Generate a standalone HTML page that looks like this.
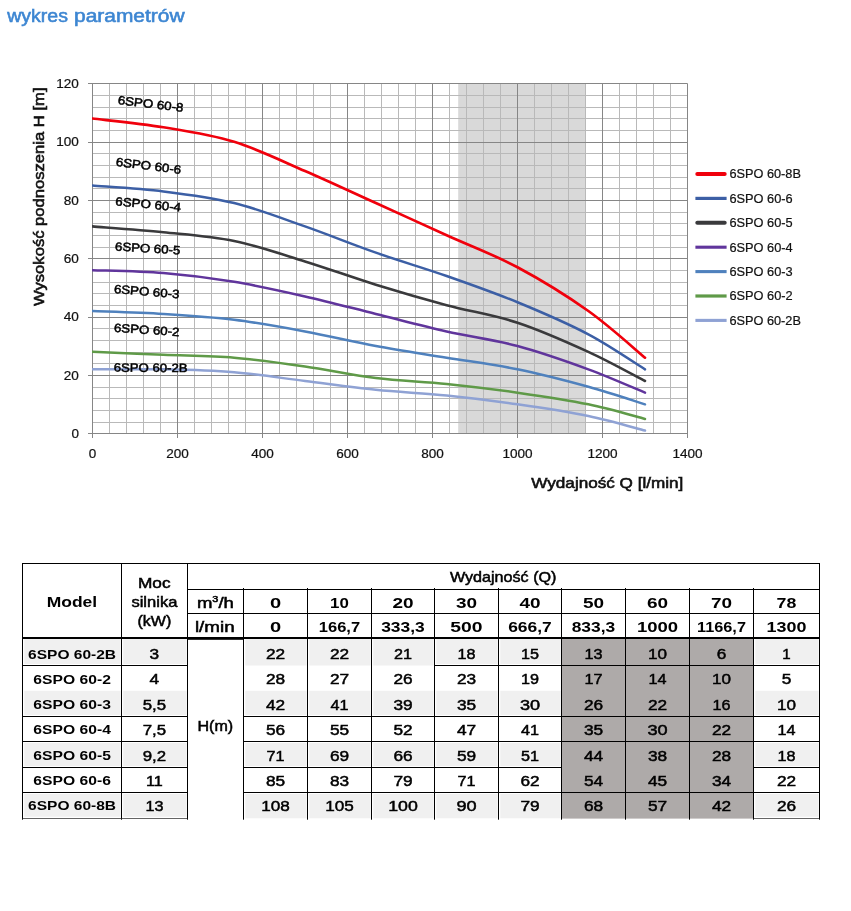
<!DOCTYPE html>
<html lang="pl"><head><meta charset="utf-8"><title>wykres parametrów</title>
<style>html,body{margin:0;padding:0;background:#fff}svg{display:block}text{font-family:"Liberation Sans", sans-serif}</style>
</head><body>
<svg width="851" height="911" viewBox="0 0 851 911">
<rect x="0" y="0" width="851" height="911" fill="#fff"/>
<text x="7.3" y="22.3" font-size="17.5" text-anchor="start" font-weight="normal" fill="#3d86d2" textLength="60.6" lengthAdjust="spacingAndGlyphs" stroke="#3d86d2" stroke-width="0.55">wykres</text>
<text x="74.0" y="22.3" font-size="17.5" text-anchor="start" font-weight="normal" fill="#3d86d2" textLength="110.5" lengthAdjust="spacingAndGlyphs" stroke="#3d86d2" stroke-width="0.55">parametrów</text>
<rect x="458.2" y="83.5" width="127.8" height="350.0" fill="#d9d9d9"/>
<path d="M109.5 83.50V433.50M126.5 83.50V433.50M143.5 83.50V433.50M160.5 83.50V433.50M194.5 83.50V433.50M211.5 83.50V433.50M228.5 83.50V433.50M245.5 83.50V433.50M279.5 83.50V433.50M296.5 83.50V433.50M313.5 83.50V433.50M330.5 83.50V433.50M364.5 83.50V433.50M381.5 83.50V433.50M398.5 83.50V433.50M415.5 83.50V433.50M449.5 83.50V433.50M466.5 83.50V433.50M483.5 83.50V433.50M500.5 83.50V433.50M534.5 83.50V433.50M551.5 83.50V433.50M568.5 83.50V433.50M585.5 83.50V433.50M619.5 83.50V433.50M636.5 83.50V433.50M653.5 83.50V433.50M670.5 83.50V433.50M92.50 422.5H687.50M92.50 410.5H687.50M92.50 398.5H687.50M92.50 387.5H687.50M92.50 363.5H687.50M92.50 352.5H687.50M92.50 340.5H687.50M92.50 328.5H687.50M92.50 305.5H687.50M92.50 293.5H687.50M92.50 282.5H687.50M92.50 270.5H687.50M92.50 247.5H687.50M92.50 235.5H687.50M92.50 223.5H687.50M92.50 212.5H687.50M92.50 188.5H687.50M92.50 177.5H687.50M92.50 165.5H687.50M92.50 153.5H687.50M92.50 130.5H687.50M92.50 118.5H687.50M92.50 107.5H687.50M92.50 95.5H687.50" stroke="#b9b9b9" stroke-width="1" fill="none"/>
<path d="M92.5 83.50V438.00M177.5 83.50V438.00M262.5 83.50V438.00M347.5 83.50V438.00M432.5 83.50V438.00M517.5 83.50V438.00M602.5 83.50V438.00M687.5 83.50V438.00M88.00 433.5H687.50M88.00 375.5H687.50M88.00 317.5H687.50M88.00 258.5H687.50M88.00 200.5H687.50M88.00 142.5H687.50M88.00 83.5H687.50" stroke="#868686" stroke-width="1" fill="none"/>
<clipPath id="pc"><rect x="92.0" y="83.5" width="596.0" height="350.0"/></clipPath>
<path d="M92.50 369.33C104.31 369.33 139.74 368.85 163.35 369.33C186.96 369.82 210.54 370.31 234.15 372.25C257.76 374.19 281.38 378.08 305.00 381.00C328.62 383.92 352.24 387.32 375.85 389.75C399.46 392.18 423.04 393.15 446.65 395.58C470.26 398.01 493.88 400.93 517.50 404.33C541.12 407.74 567.10 411.62 588.35 416.00C609.60 420.38 635.56 428.15 645.00 430.58" stroke="#8fa2d4" stroke-width="2.5" fill="none" stroke-linecap="round" stroke-linejoin="round" clip-path="url(#pc)"/>
<path d="M92.50 351.83C104.31 352.32 139.74 353.78 163.35 354.75C186.96 355.72 210.54 355.72 234.15 357.67C257.76 359.61 281.38 363.01 305.00 366.42C328.62 369.82 352.24 375.17 375.85 378.08C399.46 381.00 423.04 381.49 446.65 383.92C470.26 386.35 493.88 389.26 517.50 392.67C541.12 396.07 567.10 399.96 588.35 404.33C609.60 408.71 635.56 416.49 645.00 418.92" stroke="#5f9a48" stroke-width="2.5" fill="none" stroke-linecap="round" stroke-linejoin="round" clip-path="url(#pc)"/>
<path d="M92.50 311.00C104.31 311.49 139.74 312.46 163.35 313.92C186.96 315.38 210.54 316.83 234.15 319.75C257.76 322.67 281.38 327.04 305.00 331.42C328.62 335.79 352.24 341.62 375.85 346.00C399.46 350.38 423.04 353.78 446.65 357.67C470.26 361.56 493.88 364.47 517.50 369.33C541.12 374.19 567.10 381.00 588.35 386.83C609.60 392.67 635.56 401.42 645.00 404.33" stroke="#4f81bd" stroke-width="2.5" fill="none" stroke-linecap="round" stroke-linejoin="round" clip-path="url(#pc)"/>
<path d="M92.50 270.17C104.31 270.65 139.74 271.14 163.35 273.08C186.96 275.03 210.54 277.94 234.15 281.83C257.76 285.72 281.38 291.07 305.00 296.42C328.62 301.76 352.24 308.08 375.85 313.92C399.46 319.75 423.04 326.07 446.65 331.42C470.26 336.76 493.88 339.68 517.50 346.00C541.12 352.32 567.10 361.56 588.35 369.33C609.60 377.11 635.56 388.78 645.00 392.67" stroke="#60359c" stroke-width="2.5" fill="none" stroke-linecap="round" stroke-linejoin="round" clip-path="url(#pc)"/>
<path d="M92.50 226.42C104.31 227.39 139.74 229.82 163.35 232.25C186.96 234.68 210.54 236.14 234.15 241.00C257.76 245.86 281.38 254.13 305.00 261.42C328.62 268.71 352.24 277.46 375.85 284.75C399.46 292.04 423.04 298.85 446.65 305.17C470.26 311.49 493.88 314.89 517.50 322.67C541.12 330.44 567.10 342.11 588.35 351.83C609.60 361.56 635.56 376.14 645.00 381.00" stroke="#3a3a3c" stroke-width="2.6" fill="none" stroke-linecap="round" stroke-linejoin="round" clip-path="url(#pc)"/>
<path d="M92.50 185.58C104.31 186.56 139.74 188.50 163.35 191.42C186.96 194.33 210.54 197.25 234.15 203.08C257.76 208.92 281.38 218.15 305.00 226.42C328.62 234.68 352.24 244.40 375.85 252.67C399.46 260.93 423.04 267.74 446.65 276.00C470.26 284.26 493.88 292.53 517.50 302.25C541.12 311.97 567.10 323.15 588.35 334.33C609.60 345.51 635.56 363.50 645.00 369.33" stroke="#3c5fa5" stroke-width="2.5" fill="none" stroke-linecap="round" stroke-linejoin="round" clip-path="url(#pc)"/>
<path d="M92.50 118.50C104.31 119.96 139.74 123.36 163.35 127.25C186.96 131.14 210.54 134.54 234.15 141.83C257.76 149.13 281.38 160.79 305.00 171.00C328.62 181.21 352.24 192.39 375.85 203.08C399.46 213.78 423.04 224.47 446.65 235.17C470.26 245.86 493.88 254.61 517.50 267.25C541.12 279.89 567.10 295.93 588.35 311.00C609.60 326.07 635.56 349.89 645.00 357.67" stroke="#f0000c" stroke-width="2.7" fill="none" stroke-linecap="round" stroke-linejoin="round" clip-path="url(#pc)"/>
<text x="78.9" y="437.8" font-size="12.2" text-anchor="end" font-weight="normal" fill="#111" textLength="7.5" lengthAdjust="spacingAndGlyphs" stroke="#111" stroke-width="0.2">0</text>
<text x="78.9" y="379.5" font-size="12.2" text-anchor="end" font-weight="normal" fill="#111" textLength="15.1" lengthAdjust="spacingAndGlyphs" stroke="#111" stroke-width="0.2">20</text>
<text x="78.9" y="321.1" font-size="12.2" text-anchor="end" font-weight="normal" fill="#111" textLength="15.1" lengthAdjust="spacingAndGlyphs" stroke="#111" stroke-width="0.2">40</text>
<text x="78.9" y="262.8" font-size="12.2" text-anchor="end" font-weight="normal" fill="#111" textLength="15.1" lengthAdjust="spacingAndGlyphs" stroke="#111" stroke-width="0.2">60</text>
<text x="78.9" y="204.5" font-size="12.2" text-anchor="end" font-weight="normal" fill="#111" textLength="15.1" lengthAdjust="spacingAndGlyphs" stroke="#111" stroke-width="0.2">80</text>
<text x="78.9" y="146.1" font-size="12.2" text-anchor="end" font-weight="normal" fill="#111" textLength="22.6" lengthAdjust="spacingAndGlyphs" stroke="#111" stroke-width="0.2">100</text>
<text x="78.9" y="87.8" font-size="12.2" text-anchor="end" font-weight="normal" fill="#111" textLength="22.6" lengthAdjust="spacingAndGlyphs" stroke="#111" stroke-width="0.2">120</text>
<text x="88.7" y="457.9" font-size="12.2" text-anchor="start" font-weight="normal" fill="#111" textLength="7.5" lengthAdjust="spacingAndGlyphs" stroke="#111" stroke-width="0.2">0</text>
<text x="166.2" y="457.9" font-size="12.2" text-anchor="start" font-weight="normal" fill="#111" textLength="22.6" lengthAdjust="spacingAndGlyphs" stroke="#111" stroke-width="0.2">200</text>
<text x="251.2" y="457.9" font-size="12.2" text-anchor="start" font-weight="normal" fill="#111" textLength="22.6" lengthAdjust="spacingAndGlyphs" stroke="#111" stroke-width="0.2">400</text>
<text x="336.2" y="457.9" font-size="12.2" text-anchor="start" font-weight="normal" fill="#111" textLength="22.6" lengthAdjust="spacingAndGlyphs" stroke="#111" stroke-width="0.2">600</text>
<text x="421.2" y="457.9" font-size="12.2" text-anchor="start" font-weight="normal" fill="#111" textLength="22.6" lengthAdjust="spacingAndGlyphs" stroke="#111" stroke-width="0.2">800</text>
<text x="502.4" y="457.9" font-size="12.2" text-anchor="start" font-weight="normal" fill="#111" textLength="30.2" lengthAdjust="spacingAndGlyphs" stroke="#111" stroke-width="0.2">1000</text>
<text x="587.4" y="457.9" font-size="12.2" text-anchor="start" font-weight="normal" fill="#111" textLength="30.2" lengthAdjust="spacingAndGlyphs" stroke="#111" stroke-width="0.2">1200</text>
<text x="672.4" y="457.9" font-size="12.2" text-anchor="start" font-weight="normal" fill="#111" textLength="30.2" lengthAdjust="spacingAndGlyphs" stroke="#111" stroke-width="0.2">1400</text>
<text x="531.3" y="488.2" font-size="15.3" text-anchor="start" font-weight="normal" fill="#111" textLength="152.0" lengthAdjust="spacingAndGlyphs" stroke="#111" stroke-width="0.6">Wydajność Q [l/min]</text>
<g transform="translate(44.3 306) rotate(-90)">
<text x="0.0" y="0.0" font-size="15.3" text-anchor="start" font-weight="normal" fill="#111" textLength="218.5" lengthAdjust="spacingAndGlyphs" stroke="#111" stroke-width="0.6">Wysokość podnoszenia H [m]</text>
</g>
<g transform="translate(117.4 104.0) rotate(6.8)">
<text x="0.0" y="0.0" font-size="12" text-anchor="start" font-weight="normal" fill="#000" textLength="66.0" lengthAdjust="spacingAndGlyphs" stroke="#000" stroke-width="0.5">6SPO 60-8</text>
</g>
<g transform="translate(115.4 165.7) rotate(7.2)">
<text x="0.0" y="0.0" font-size="12" text-anchor="start" font-weight="normal" fill="#000" textLength="65.8" lengthAdjust="spacingAndGlyphs" stroke="#000" stroke-width="0.5">6SPO 60-6</text>
</g>
<g transform="translate(115.1 205.2) rotate(5.5)">
<text x="0.0" y="0.0" font-size="12" text-anchor="start" font-weight="normal" fill="#000" textLength="65.9" lengthAdjust="spacingAndGlyphs" stroke="#000" stroke-width="0.5">6SPO 60-4</text>
</g>
<g transform="translate(114.8 250.4) rotate(3.6)">
<text x="0.0" y="0.0" font-size="12" text-anchor="start" font-weight="normal" fill="#000" textLength="65.3" lengthAdjust="spacingAndGlyphs" stroke="#000" stroke-width="0.5">6SPO 60-5</text>
</g>
<g transform="translate(113.7 292.9) rotate(4.8)">
<text x="0.0" y="0.0" font-size="12" text-anchor="start" font-weight="normal" fill="#000" textLength="65.6" lengthAdjust="spacingAndGlyphs" stroke="#000" stroke-width="0.5">6SPO 60-3</text>
</g>
<g transform="translate(113.7 331.7) rotate(3.9)">
<text x="0.0" y="0.0" font-size="12" text-anchor="start" font-weight="normal" fill="#000" textLength="65.6" lengthAdjust="spacingAndGlyphs" stroke="#000" stroke-width="0.5">6SPO 60-2</text>
</g>
<g transform="translate(113.7 371.6) rotate(0.4)">
<text x="0.0" y="0.0" font-size="12" text-anchor="start" font-weight="normal" fill="#000" textLength="73.8" lengthAdjust="spacingAndGlyphs" stroke="#000" stroke-width="0.5">6SPO 60-2B</text>
</g>
<path d="M697.3 174.0H724.7" stroke="#f0000c" stroke-width="4.0" stroke-linecap="round" fill="none"/>
<text x="729.4" y="178.3" font-size="12.2" text-anchor="start" font-weight="normal" fill="#111" textLength="71.5" lengthAdjust="spacingAndGlyphs" stroke="#111" stroke-width="0.2">6SPO 60-8B</text>
<path d="M695.4 198.4H726.6" stroke="#3c5fa5" stroke-width="3.2" stroke-linecap="butt" fill="none"/>
<text x="729.4" y="202.7" font-size="12.2" text-anchor="start" font-weight="normal" fill="#111" textLength="63.3" lengthAdjust="spacingAndGlyphs" stroke="#111" stroke-width="0.2">6SPO 60-6</text>
<path d="M697.3 222.8H724.7" stroke="#3a3a3c" stroke-width="4.0" stroke-linecap="round" fill="none"/>
<text x="729.4" y="227.1" font-size="12.2" text-anchor="start" font-weight="normal" fill="#111" textLength="63.3" lengthAdjust="spacingAndGlyphs" stroke="#111" stroke-width="0.2">6SPO 60-5</text>
<path d="M695.4 247.2H726.6" stroke="#60359c" stroke-width="3.1" stroke-linecap="butt" fill="none"/>
<text x="729.4" y="251.5" font-size="12.2" text-anchor="start" font-weight="normal" fill="#111" textLength="63.3" lengthAdjust="spacingAndGlyphs" stroke="#111" stroke-width="0.2">6SPO 60-4</text>
<path d="M695.4 271.6H726.6" stroke="#4f81bd" stroke-width="3.1" stroke-linecap="butt" fill="none"/>
<text x="729.4" y="275.9" font-size="12.2" text-anchor="start" font-weight="normal" fill="#111" textLength="63.3" lengthAdjust="spacingAndGlyphs" stroke="#111" stroke-width="0.2">6SPO 60-3</text>
<path d="M695.4 296.0H726.6" stroke="#5f9a48" stroke-width="3.2" stroke-linecap="butt" fill="none"/>
<text x="729.4" y="300.3" font-size="12.2" text-anchor="start" font-weight="normal" fill="#111" textLength="63.3" lengthAdjust="spacingAndGlyphs" stroke="#111" stroke-width="0.2">6SPO 60-2</text>
<path d="M695.4 320.4H726.6" stroke="#8fa2d4" stroke-width="3.1" stroke-linecap="butt" fill="none"/>
<text x="729.4" y="324.7" font-size="12.2" text-anchor="start" font-weight="normal" fill="#111" textLength="71.5" lengthAdjust="spacingAndGlyphs" stroke="#111" stroke-width="0.2">6SPO 60-2B</text>
<rect x="561.5" y="639.0" width="192.0" height="179.6" fill="#aeaaa9"/>
<rect x="24.3" y="639.0" width="96.3" height="25.0" fill="#f0f0f0"/>
<rect x="123.3" y="639.0" width="63.3" height="25.0" fill="#f0f0f0"/>
<rect x="245.3" y="639.0" width="61.3" height="26.5" fill="#f0f0f0"/>
<rect x="309.3" y="639.0" width="61.3" height="26.5" fill="#f0f0f0"/>
<rect x="373.3" y="639.0" width="60.3" height="26.5" fill="#f0f0f0"/>
<rect x="436.3" y="639.0" width="61.3" height="25.0" fill="#f0f0f0"/>
<rect x="500.3" y="639.0" width="60.3" height="25.0" fill="#f0f0f0"/>
<rect x="755.3" y="639.0" width="63.3" height="25.0" fill="#f0f0f0"/>
<rect x="24.3" y="690.8" width="96.3" height="24.2" fill="#f0f0f0"/>
<rect x="123.3" y="690.8" width="63.3" height="24.2" fill="#f0f0f0"/>
<rect x="245.3" y="690.8" width="61.3" height="24.2" fill="#f0f0f0"/>
<rect x="309.3" y="690.8" width="61.3" height="24.2" fill="#f0f0f0"/>
<rect x="373.3" y="690.8" width="60.3" height="24.2" fill="#f0f0f0"/>
<rect x="436.3" y="690.8" width="61.3" height="24.2" fill="#f0f0f0"/>
<rect x="500.3" y="690.8" width="60.3" height="24.2" fill="#f0f0f0"/>
<rect x="755.3" y="690.8" width="63.3" height="24.2" fill="#f0f0f0"/>
<rect x="24.3" y="743.0" width="96.3" height="23.0" fill="#f0f0f0"/>
<rect x="123.3" y="743.0" width="63.3" height="23.0" fill="#f0f0f0"/>
<rect x="245.3" y="743.0" width="61.3" height="23.0" fill="#f0f0f0"/>
<rect x="309.3" y="743.0" width="61.3" height="23.0" fill="#f0f0f0"/>
<rect x="373.3" y="743.0" width="60.3" height="23.0" fill="#f0f0f0"/>
<rect x="436.3" y="743.0" width="61.3" height="23.0" fill="#f0f0f0"/>
<rect x="500.3" y="743.0" width="60.3" height="23.0" fill="#f0f0f0"/>
<rect x="755.3" y="743.0" width="63.3" height="23.0" fill="#f0f0f0"/>
<rect x="24.3" y="794.0" width="96.3" height="22.8" fill="#f0f0f0"/>
<rect x="123.3" y="794.0" width="63.3" height="22.8" fill="#f0f0f0"/>
<rect x="245.3" y="794.0" width="61.3" height="24.3" fill="#f0f0f0"/>
<rect x="309.3" y="794.0" width="61.3" height="24.3" fill="#f0f0f0"/>
<rect x="373.3" y="794.0" width="60.3" height="24.3" fill="#f0f0f0"/>
<rect x="436.3" y="794.0" width="61.3" height="24.3" fill="#f0f0f0"/>
<rect x="500.3" y="794.0" width="60.3" height="24.3" fill="#f0f0f0"/>
<rect x="755.3" y="794.0" width="63.3" height="22.8" fill="#f0f0f0"/>
<path d="M22.0 563.5H820.0M187.5 589.5H819.5M187.5 613.5H819.5M22.5 563.5V819.6999999999999M121.5 563.5V819.6999999999999M187.5 563.5V819.6999999999999M819.5 563.5V819.6999999999999M243.5 588.0V819.6999999999999M307.5 588.0V819.6999999999999M371.5 588.0V819.6999999999999M434.5 588.0V819.6999999999999M498.5 588.0V819.6999999999999M561.5 588.0V819.6999999999999M625.5 588.0V819.6999999999999M689.5 588.0V819.6999999999999M753.5 588.0V819.6999999999999M22.5 665.5H121.5M22.5 716.5H121.5M22.5 741.5H121.5M22.5 767.5H121.5M22.5 792.5H121.5M121.5 665.5H187.5M121.5 716.5H187.5M121.5 741.5H187.5M121.5 767.5H187.5M121.5 792.5H187.5M243.5 716.5H307.5M243.5 741.5H307.5M243.5 767.5H307.5M243.5 792.5H307.5M307.5 716.5H371.5M307.5 741.5H371.5M307.5 767.5H371.5M307.5 792.5H371.5M371.5 716.5H434.5M371.5 741.5H434.5M371.5 767.5H434.5M371.5 792.5H434.5M434.5 665.5H498.5M434.5 716.5H498.5M434.5 741.5H498.5M434.5 767.5H498.5M434.5 792.5H498.5M498.5 665.5H561.5M498.5 716.5H561.5M498.5 741.5H561.5M498.5 767.5H561.5M498.5 792.5H561.5M561.5 665.5H625.5M561.5 716.5H625.5M561.5 741.5H625.5M561.5 792.5H625.5M625.5 665.5H689.5M625.5 716.5H689.5M625.5 741.5H689.5M625.5 792.5H689.5M689.5 665.5H753.5M689.5 716.5H753.5M689.5 741.5H753.5M689.5 792.5H753.5M753.5 665.5H819.5M753.5 716.5H819.5M753.5 741.5H819.5M753.5 767.5H819.5M753.5 792.5H819.5" stroke="#000" stroke-width="1" fill="none"/>
<rect x="22.0" y="637" width="798.0" height="2" fill="#000"/>
<rect x="187.5" y="637" width="56.0" height="2.8" fill="#000"/>
<path d="M22.5 818.5H187.5M753.5 818.5H819.5" stroke="#222" stroke-width="0.7" fill="none"/>
<text x="71.9" y="607.3" font-size="14.5" text-anchor="middle" font-weight="bold" fill="#000" textLength="50.5" lengthAdjust="spacingAndGlyphs">Model</text>
<text x="154.3" y="588.2" font-size="14.5" text-anchor="middle" font-weight="normal" fill="#000" textLength="32.6" lengthAdjust="spacingAndGlyphs" stroke="#000" stroke-width="0.5">Moc</text>
<text x="154.4" y="607.3" font-size="14.5" text-anchor="middle" font-weight="normal" fill="#000" textLength="46.0" lengthAdjust="spacingAndGlyphs" stroke="#000" stroke-width="0.5">silnika</text>
<text x="154.4" y="626.4" font-size="14.5" text-anchor="middle" font-weight="normal" fill="#000" textLength="33.8" lengthAdjust="spacingAndGlyphs" stroke="#000" stroke-width="0.5">(kW)</text>
<text x="503.2" y="582.1" font-size="14.5" text-anchor="middle" font-weight="normal" fill="#000" textLength="106.5" lengthAdjust="spacingAndGlyphs" stroke="#000" stroke-width="0.5">Wydajność (Q)</text>
<text x="196.9" y="608.4" font-size="14.5" stroke="#000" stroke-width="0.5" textLength="37.0" lengthAdjust="spacingAndGlyphs">m<tspan font-size="8.5" dy="-6.5">3</tspan><tspan dy="6.5">/h</tspan></text>
<text x="214.8" y="632.0" font-size="14.5" text-anchor="middle" font-weight="normal" fill="#000" textLength="39.7" lengthAdjust="spacingAndGlyphs" stroke="#000" stroke-width="0.5">l/min</text>
<text x="215.3" y="731.4" font-size="14.5" text-anchor="middle" font-weight="normal" fill="#000" textLength="35.7" lengthAdjust="spacingAndGlyphs" stroke="#000" stroke-width="0.5">H(m)</text>
<text x="275.5" y="608.2" font-size="15.5" text-anchor="middle" font-weight="bold" fill="#000" textLength="11.2" lengthAdjust="spacingAndGlyphs">0</text>
<text x="339.5" y="608.2" font-size="15.5" text-anchor="middle" font-weight="bold" fill="#000" textLength="18.8" lengthAdjust="spacingAndGlyphs">10</text>
<text x="403.0" y="608.2" font-size="15.5" text-anchor="middle" font-weight="bold" fill="#000" textLength="21.1" lengthAdjust="spacingAndGlyphs">20</text>
<text x="466.5" y="608.2" font-size="15.5" text-anchor="middle" font-weight="bold" fill="#000" textLength="21.1" lengthAdjust="spacingAndGlyphs">30</text>
<text x="530.0" y="608.2" font-size="15.5" text-anchor="middle" font-weight="bold" fill="#000" textLength="21.1" lengthAdjust="spacingAndGlyphs">40</text>
<text x="593.5" y="608.2" font-size="15.5" text-anchor="middle" font-weight="bold" fill="#000" textLength="21.1" lengthAdjust="spacingAndGlyphs">50</text>
<text x="657.5" y="608.2" font-size="15.5" text-anchor="middle" font-weight="bold" fill="#000" textLength="21.1" lengthAdjust="spacingAndGlyphs">60</text>
<text x="721.5" y="608.2" font-size="15.5" text-anchor="middle" font-weight="bold" fill="#000" textLength="21.1" lengthAdjust="spacingAndGlyphs">70</text>
<text x="786.5" y="608.2" font-size="15.5" text-anchor="middle" font-weight="bold" fill="#000" textLength="19.8" lengthAdjust="spacingAndGlyphs">78</text>
<text x="275.5" y="632.3" font-size="15.5" text-anchor="middle" font-weight="bold" fill="#000" textLength="11.2" lengthAdjust="spacingAndGlyphs">0</text>
<text x="339.5" y="632.3" font-size="15.5" text-anchor="middle" font-weight="bold" fill="#000" textLength="41.3" lengthAdjust="spacingAndGlyphs">166,7</text>
<text x="403.0" y="632.3" font-size="15.5" text-anchor="middle" font-weight="bold" fill="#000" textLength="43.6" lengthAdjust="spacingAndGlyphs">333,3</text>
<text x="466.5" y="632.3" font-size="15.5" text-anchor="middle" font-weight="bold" fill="#000" textLength="32.3" lengthAdjust="spacingAndGlyphs">500</text>
<text x="530.0" y="632.3" font-size="15.5" text-anchor="middle" font-weight="bold" fill="#000" textLength="43.6" lengthAdjust="spacingAndGlyphs">666,7</text>
<text x="593.5" y="632.3" font-size="15.5" text-anchor="middle" font-weight="bold" fill="#000" textLength="43.6" lengthAdjust="spacingAndGlyphs">833,3</text>
<text x="657.5" y="632.3" font-size="15.5" text-anchor="middle" font-weight="bold" fill="#000" textLength="41.2" lengthAdjust="spacingAndGlyphs">1000</text>
<text x="721.5" y="632.3" font-size="15.5" text-anchor="middle" font-weight="bold" fill="#000" textLength="48.9" lengthAdjust="spacingAndGlyphs">1166,7</text>
<text x="786.5" y="632.3" font-size="15.5" text-anchor="middle" font-weight="bold" fill="#000" textLength="39.9" lengthAdjust="spacingAndGlyphs">1300</text>
<text x="72.1" y="658.9" font-size="13.7" text-anchor="middle" font-weight="bold" fill="#000" textLength="88.0" lengthAdjust="spacingAndGlyphs">6SPO 60-2B</text>
<text x="154.4" y="659.4" font-size="15.5" text-anchor="middle" font-weight="normal" fill="#000" textLength="9.6" lengthAdjust="spacingAndGlyphs" stroke="#000" stroke-width="0.5">3</text>
<text x="275.5" y="659.4" font-size="15.5" text-anchor="middle" font-weight="normal" fill="#000" textLength="19.2" lengthAdjust="spacingAndGlyphs" stroke="#000" stroke-width="0.5">22</text>
<text x="339.5" y="659.4" font-size="15.5" text-anchor="middle" font-weight="normal" fill="#000" textLength="19.2" lengthAdjust="spacingAndGlyphs" stroke="#000" stroke-width="0.5">22</text>
<text x="403.0" y="659.4" font-size="15.5" text-anchor="middle" font-weight="normal" fill="#000" textLength="18.0" lengthAdjust="spacingAndGlyphs" stroke="#000" stroke-width="0.5">21</text>
<text x="466.5" y="659.4" font-size="15.5" text-anchor="middle" font-weight="normal" fill="#000" textLength="18.0" lengthAdjust="spacingAndGlyphs" stroke="#000" stroke-width="0.5">18</text>
<text x="530.0" y="659.4" font-size="15.5" text-anchor="middle" font-weight="normal" fill="#000" textLength="18.0" lengthAdjust="spacingAndGlyphs" stroke="#000" stroke-width="0.5">15</text>
<text x="593.5" y="659.4" font-size="15.5" text-anchor="middle" font-weight="normal" fill="#000" textLength="18.0" lengthAdjust="spacingAndGlyphs" stroke="#000" stroke-width="0.5">13</text>
<text x="657.5" y="659.4" font-size="15.5" text-anchor="middle" font-weight="normal" fill="#000" textLength="19.0" lengthAdjust="spacingAndGlyphs" stroke="#000" stroke-width="0.5">10</text>
<text x="721.5" y="659.4" font-size="15.5" text-anchor="middle" font-weight="normal" fill="#000" textLength="9.6" lengthAdjust="spacingAndGlyphs" stroke="#000" stroke-width="0.5">6</text>
<text x="786.5" y="659.4" font-size="15.5" text-anchor="middle" font-weight="normal" fill="#000" textLength="8.4" lengthAdjust="spacingAndGlyphs" stroke="#000" stroke-width="0.5">1</text>
<text x="72.1" y="683.8" font-size="13.7" text-anchor="middle" font-weight="bold" fill="#000" textLength="77.5" lengthAdjust="spacingAndGlyphs">6SPO 60-2</text>
<text x="154.4" y="684.3" font-size="15.5" text-anchor="middle" font-weight="normal" fill="#000" textLength="9.6" lengthAdjust="spacingAndGlyphs" stroke="#000" stroke-width="0.5">4</text>
<text x="275.5" y="684.3" font-size="15.5" text-anchor="middle" font-weight="normal" fill="#000" textLength="19.2" lengthAdjust="spacingAndGlyphs" stroke="#000" stroke-width="0.5">28</text>
<text x="339.5" y="684.3" font-size="15.5" text-anchor="middle" font-weight="normal" fill="#000" textLength="19.2" lengthAdjust="spacingAndGlyphs" stroke="#000" stroke-width="0.5">27</text>
<text x="403.0" y="684.3" font-size="15.5" text-anchor="middle" font-weight="normal" fill="#000" textLength="19.2" lengthAdjust="spacingAndGlyphs" stroke="#000" stroke-width="0.5">26</text>
<text x="466.5" y="684.3" font-size="15.5" text-anchor="middle" font-weight="normal" fill="#000" textLength="19.2" lengthAdjust="spacingAndGlyphs" stroke="#000" stroke-width="0.5">23</text>
<text x="530.0" y="684.3" font-size="15.5" text-anchor="middle" font-weight="normal" fill="#000" textLength="18.0" lengthAdjust="spacingAndGlyphs" stroke="#000" stroke-width="0.5">19</text>
<text x="593.5" y="684.3" font-size="15.5" text-anchor="middle" font-weight="normal" fill="#000" textLength="18.0" lengthAdjust="spacingAndGlyphs" stroke="#000" stroke-width="0.5">17</text>
<text x="657.5" y="684.3" font-size="15.5" text-anchor="middle" font-weight="normal" fill="#000" textLength="18.0" lengthAdjust="spacingAndGlyphs" stroke="#000" stroke-width="0.5">14</text>
<text x="721.5" y="684.3" font-size="15.5" text-anchor="middle" font-weight="normal" fill="#000" textLength="19.0" lengthAdjust="spacingAndGlyphs" stroke="#000" stroke-width="0.5">10</text>
<text x="786.5" y="684.3" font-size="15.5" text-anchor="middle" font-weight="normal" fill="#000" textLength="9.6" lengthAdjust="spacingAndGlyphs" stroke="#000" stroke-width="0.5">5</text>
<text x="72.1" y="709.4" font-size="13.7" text-anchor="middle" font-weight="bold" fill="#000" textLength="77.5" lengthAdjust="spacingAndGlyphs">6SPO 60-3</text>
<text x="154.4" y="709.9" font-size="15.5" text-anchor="middle" font-weight="normal" fill="#000" textLength="23.4" lengthAdjust="spacingAndGlyphs" stroke="#000" stroke-width="0.5">5,5</text>
<text x="275.5" y="709.9" font-size="15.5" text-anchor="middle" font-weight="normal" fill="#000" textLength="19.2" lengthAdjust="spacingAndGlyphs" stroke="#000" stroke-width="0.5">42</text>
<text x="339.5" y="709.9" font-size="15.5" text-anchor="middle" font-weight="normal" fill="#000" textLength="18.0" lengthAdjust="spacingAndGlyphs" stroke="#000" stroke-width="0.5">41</text>
<text x="403.0" y="709.9" font-size="15.5" text-anchor="middle" font-weight="normal" fill="#000" textLength="19.2" lengthAdjust="spacingAndGlyphs" stroke="#000" stroke-width="0.5">39</text>
<text x="466.5" y="709.9" font-size="15.5" text-anchor="middle" font-weight="normal" fill="#000" textLength="19.2" lengthAdjust="spacingAndGlyphs" stroke="#000" stroke-width="0.5">35</text>
<text x="530.0" y="709.9" font-size="15.5" text-anchor="middle" font-weight="normal" fill="#000" textLength="20.2" lengthAdjust="spacingAndGlyphs" stroke="#000" stroke-width="0.5">30</text>
<text x="593.5" y="709.9" font-size="15.5" text-anchor="middle" font-weight="normal" fill="#000" textLength="19.2" lengthAdjust="spacingAndGlyphs" stroke="#000" stroke-width="0.5">26</text>
<text x="657.5" y="709.9" font-size="15.5" text-anchor="middle" font-weight="normal" fill="#000" textLength="19.2" lengthAdjust="spacingAndGlyphs" stroke="#000" stroke-width="0.5">22</text>
<text x="721.5" y="709.9" font-size="15.5" text-anchor="middle" font-weight="normal" fill="#000" textLength="18.0" lengthAdjust="spacingAndGlyphs" stroke="#000" stroke-width="0.5">16</text>
<text x="786.5" y="709.9" font-size="15.5" text-anchor="middle" font-weight="normal" fill="#000" textLength="19.0" lengthAdjust="spacingAndGlyphs" stroke="#000" stroke-width="0.5">10</text>
<text x="72.1" y="734.4" font-size="13.7" text-anchor="middle" font-weight="bold" fill="#000" textLength="77.5" lengthAdjust="spacingAndGlyphs">6SPO 60-4</text>
<text x="154.4" y="734.9" font-size="15.5" text-anchor="middle" font-weight="normal" fill="#000" textLength="23.4" lengthAdjust="spacingAndGlyphs" stroke="#000" stroke-width="0.5">7,5</text>
<text x="275.5" y="734.9" font-size="15.5" text-anchor="middle" font-weight="normal" fill="#000" textLength="19.2" lengthAdjust="spacingAndGlyphs" stroke="#000" stroke-width="0.5">56</text>
<text x="339.5" y="734.9" font-size="15.5" text-anchor="middle" font-weight="normal" fill="#000" textLength="19.2" lengthAdjust="spacingAndGlyphs" stroke="#000" stroke-width="0.5">55</text>
<text x="403.0" y="734.9" font-size="15.5" text-anchor="middle" font-weight="normal" fill="#000" textLength="19.2" lengthAdjust="spacingAndGlyphs" stroke="#000" stroke-width="0.5">52</text>
<text x="466.5" y="734.9" font-size="15.5" text-anchor="middle" font-weight="normal" fill="#000" textLength="19.2" lengthAdjust="spacingAndGlyphs" stroke="#000" stroke-width="0.5">47</text>
<text x="530.0" y="734.9" font-size="15.5" text-anchor="middle" font-weight="normal" fill="#000" textLength="18.0" lengthAdjust="spacingAndGlyphs" stroke="#000" stroke-width="0.5">41</text>
<text x="593.5" y="734.9" font-size="15.5" text-anchor="middle" font-weight="normal" fill="#000" textLength="19.2" lengthAdjust="spacingAndGlyphs" stroke="#000" stroke-width="0.5">35</text>
<text x="657.5" y="734.9" font-size="15.5" text-anchor="middle" font-weight="normal" fill="#000" textLength="20.2" lengthAdjust="spacingAndGlyphs" stroke="#000" stroke-width="0.5">30</text>
<text x="721.5" y="734.9" font-size="15.5" text-anchor="middle" font-weight="normal" fill="#000" textLength="19.2" lengthAdjust="spacingAndGlyphs" stroke="#000" stroke-width="0.5">22</text>
<text x="786.5" y="734.9" font-size="15.5" text-anchor="middle" font-weight="normal" fill="#000" textLength="18.0" lengthAdjust="spacingAndGlyphs" stroke="#000" stroke-width="0.5">14</text>
<text x="72.1" y="760.2" font-size="13.7" text-anchor="middle" font-weight="bold" fill="#000" textLength="77.5" lengthAdjust="spacingAndGlyphs">6SPO 60-5</text>
<text x="154.4" y="760.7" font-size="15.5" text-anchor="middle" font-weight="normal" fill="#000" textLength="23.4" lengthAdjust="spacingAndGlyphs" stroke="#000" stroke-width="0.5">9,2</text>
<text x="275.5" y="760.7" font-size="15.5" text-anchor="middle" font-weight="normal" fill="#000" textLength="18.0" lengthAdjust="spacingAndGlyphs" stroke="#000" stroke-width="0.5">71</text>
<text x="339.5" y="760.7" font-size="15.5" text-anchor="middle" font-weight="normal" fill="#000" textLength="19.2" lengthAdjust="spacingAndGlyphs" stroke="#000" stroke-width="0.5">69</text>
<text x="403.0" y="760.7" font-size="15.5" text-anchor="middle" font-weight="normal" fill="#000" textLength="19.2" lengthAdjust="spacingAndGlyphs" stroke="#000" stroke-width="0.5">66</text>
<text x="466.5" y="760.7" font-size="15.5" text-anchor="middle" font-weight="normal" fill="#000" textLength="19.2" lengthAdjust="spacingAndGlyphs" stroke="#000" stroke-width="0.5">59</text>
<text x="530.0" y="760.7" font-size="15.5" text-anchor="middle" font-weight="normal" fill="#000" textLength="18.0" lengthAdjust="spacingAndGlyphs" stroke="#000" stroke-width="0.5">51</text>
<text x="593.5" y="760.7" font-size="15.5" text-anchor="middle" font-weight="normal" fill="#000" textLength="19.2" lengthAdjust="spacingAndGlyphs" stroke="#000" stroke-width="0.5">44</text>
<text x="657.5" y="760.7" font-size="15.5" text-anchor="middle" font-weight="normal" fill="#000" textLength="19.2" lengthAdjust="spacingAndGlyphs" stroke="#000" stroke-width="0.5">38</text>
<text x="721.5" y="760.7" font-size="15.5" text-anchor="middle" font-weight="normal" fill="#000" textLength="19.2" lengthAdjust="spacingAndGlyphs" stroke="#000" stroke-width="0.5">28</text>
<text x="786.5" y="760.7" font-size="15.5" text-anchor="middle" font-weight="normal" fill="#000" textLength="18.0" lengthAdjust="spacingAndGlyphs" stroke="#000" stroke-width="0.5">18</text>
<text x="72.1" y="785.2" font-size="13.7" text-anchor="middle" font-weight="bold" fill="#000" textLength="77.5" lengthAdjust="spacingAndGlyphs">6SPO 60-6</text>
<text x="154.4" y="785.7" font-size="15.5" text-anchor="middle" font-weight="normal" fill="#000" textLength="16.8" lengthAdjust="spacingAndGlyphs" stroke="#000" stroke-width="0.5">11</text>
<text x="275.5" y="785.7" font-size="15.5" text-anchor="middle" font-weight="normal" fill="#000" textLength="19.2" lengthAdjust="spacingAndGlyphs" stroke="#000" stroke-width="0.5">85</text>
<text x="339.5" y="785.7" font-size="15.5" text-anchor="middle" font-weight="normal" fill="#000" textLength="19.2" lengthAdjust="spacingAndGlyphs" stroke="#000" stroke-width="0.5">83</text>
<text x="403.0" y="785.7" font-size="15.5" text-anchor="middle" font-weight="normal" fill="#000" textLength="19.2" lengthAdjust="spacingAndGlyphs" stroke="#000" stroke-width="0.5">79</text>
<text x="466.5" y="785.7" font-size="15.5" text-anchor="middle" font-weight="normal" fill="#000" textLength="18.0" lengthAdjust="spacingAndGlyphs" stroke="#000" stroke-width="0.5">71</text>
<text x="530.0" y="785.7" font-size="15.5" text-anchor="middle" font-weight="normal" fill="#000" textLength="19.2" lengthAdjust="spacingAndGlyphs" stroke="#000" stroke-width="0.5">62</text>
<text x="593.5" y="785.7" font-size="15.5" text-anchor="middle" font-weight="normal" fill="#000" textLength="19.2" lengthAdjust="spacingAndGlyphs" stroke="#000" stroke-width="0.5">54</text>
<text x="657.5" y="785.7" font-size="15.5" text-anchor="middle" font-weight="normal" fill="#000" textLength="19.2" lengthAdjust="spacingAndGlyphs" stroke="#000" stroke-width="0.5">45</text>
<text x="721.5" y="785.7" font-size="15.5" text-anchor="middle" font-weight="normal" fill="#000" textLength="19.2" lengthAdjust="spacingAndGlyphs" stroke="#000" stroke-width="0.5">34</text>
<text x="786.5" y="785.7" font-size="15.5" text-anchor="middle" font-weight="normal" fill="#000" textLength="19.2" lengthAdjust="spacingAndGlyphs" stroke="#000" stroke-width="0.5">22</text>
<text x="72.1" y="810.2" font-size="13.7" text-anchor="middle" font-weight="bold" fill="#000" textLength="88.0" lengthAdjust="spacingAndGlyphs">6SPO 60-8B</text>
<text x="154.4" y="810.7" font-size="15.5" text-anchor="middle" font-weight="normal" fill="#000" textLength="18.0" lengthAdjust="spacingAndGlyphs" stroke="#000" stroke-width="0.5">13</text>
<text x="275.5" y="810.7" font-size="15.5" text-anchor="middle" font-weight="normal" fill="#000" textLength="28.6" lengthAdjust="spacingAndGlyphs" stroke="#000" stroke-width="0.5">108</text>
<text x="339.5" y="810.7" font-size="15.5" text-anchor="middle" font-weight="normal" fill="#000" textLength="28.6" lengthAdjust="spacingAndGlyphs" stroke="#000" stroke-width="0.5">105</text>
<text x="403.0" y="810.7" font-size="15.5" text-anchor="middle" font-weight="normal" fill="#000" textLength="29.6" lengthAdjust="spacingAndGlyphs" stroke="#000" stroke-width="0.5">100</text>
<text x="466.5" y="810.7" font-size="15.5" text-anchor="middle" font-weight="normal" fill="#000" textLength="20.2" lengthAdjust="spacingAndGlyphs" stroke="#000" stroke-width="0.5">90</text>
<text x="530.0" y="810.7" font-size="15.5" text-anchor="middle" font-weight="normal" fill="#000" textLength="19.2" lengthAdjust="spacingAndGlyphs" stroke="#000" stroke-width="0.5">79</text>
<text x="593.5" y="810.7" font-size="15.5" text-anchor="middle" font-weight="normal" fill="#000" textLength="19.2" lengthAdjust="spacingAndGlyphs" stroke="#000" stroke-width="0.5">68</text>
<text x="657.5" y="810.7" font-size="15.5" text-anchor="middle" font-weight="normal" fill="#000" textLength="19.2" lengthAdjust="spacingAndGlyphs" stroke="#000" stroke-width="0.5">57</text>
<text x="721.5" y="810.7" font-size="15.5" text-anchor="middle" font-weight="normal" fill="#000" textLength="19.2" lengthAdjust="spacingAndGlyphs" stroke="#000" stroke-width="0.5">42</text>
<text x="786.5" y="810.7" font-size="15.5" text-anchor="middle" font-weight="normal" fill="#000" textLength="19.2" lengthAdjust="spacingAndGlyphs" stroke="#000" stroke-width="0.5">26</text>
</svg>
</body></html>
